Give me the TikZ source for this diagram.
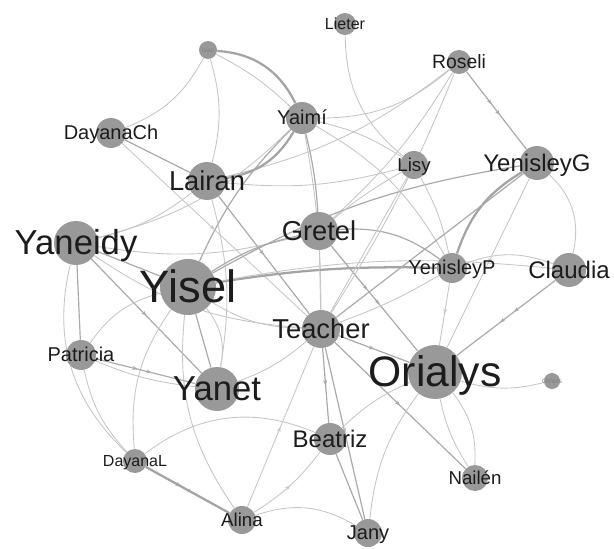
\documentclass[tikz,border=0pt]{standalone}
\usepackage{fontspec}
\setmainfont{Liberation Sans}
\usetikzlibrary{decorations.markings,arrows.meta}
\pgfdeclarelayer{bg}
\pgfsetlayers{bg,main}
\definecolor{nodefill}{HTML}{999999}
\definecolor{eL}{HTML}{C6C6C6}
\definecolor{eM}{HTML}{AAAAAA}
\definecolor{eH}{HTML}{A4A4A4}
\definecolor{txt}{HTML}{1C1C1C}
\tikzset{
  pers/.style={circle, fill=nodefill, draw=none, inner sep=0pt, minimum size={1.5*#1 pt}},
  ln/.style={draw=eL, line width=0.65pt},
  lm/.style={draw=eM, line width=0.9pt},
  lh/.style={draw=eH, line width=1.7pt},
  ar/.style={postaction={decorate}, decoration={markings, mark=at position 0.5 with {\arrow[line width=0.5pt]{Stealth[length=4pt,width=3pt]}}}},
  artwo/.style={postaction={decorate}, decoration={markings, mark=at position 0.42 with {\arrow[line width=0.5pt]{Stealth[length=4pt,width=3pt]}}, mark=at position 0.56 with {\arrow[line width=0.5pt]{Stealth[length=4pt,width=3pt]}}}}
}
\newcommand\pnode[4]{\node[pers=#4] (#1) at (#2,#3) {};}
\newcommand\plab[3]{\node[font=\fontsize{#2}{#2}\selectfont, text=txt, anchor=base, inner sep=0pt, yshift={-0.34*#2pt}] (t#1) at (#1.center) {#3};}
\begin{document}
\begin{tikzpicture}[x=0.75pt,y=-0.75pt]
\path[use as bounding box] (0,0) rectangle (614,549);
% persons
\pnode{ivan}{208}{50}{9}
\pnode{lieter}{345}{24}{11}
\pnode{roseli}{459}{62}{12}
\pnode{dayanach}{111}{133}{15}
\pnode{yaimi}{302}{118}{16}
\pnode{lairan}{207}{181}{19}
\pnode{lisy}{414}{165}{14}
\pnode{yenisleyg}{537}{163}{17}
\pnode{gretel}{319}{231}{19}
\pnode{yaneidy}{76}{243}{22}
\pnode{yisel}{188}{287}{28}
\pnode{yenisleyp}{452}{268}{15}
\pnode{claudia}{569}{270}{17}
\pnode{teacher}{321}{329}{19}
\pnode{patricia}{81}{355}{15}
\pnode{yanet}{217}{389}{22}
\pnode{orialys}{435}{372}{27}
\pnode{others}{552}{381}{8}
\pnode{beatriz}{330}{439}{16}
\pnode{dayanal}{135}{461}{12}
\pnode{nailen}{475}{478}{13}
\pnode{alina}{242}{520}{14}
\pnode{jany}{368}{533}{14}
\begin{pgfonlayer}{bg}
\draw[lh] (ivan) to[bend left=30] (yaimi);
\draw[ln] (ivan) to[bend left=8] (yaimi);
\draw[ln] (ivan) to[bend left=20] (dayanach);
\draw[ln] (ivan) to[bend left=15] (lairan);
\draw[ln] (lieter) to[bend right=25] (lisy);
\draw[lm,artwo] (roseli) -- (yenisleyg);
\draw[ln] (roseli) to[bend left=20] (yaimi);
\draw[ln] (roseli) to[bend left=12] (lairan);
\draw[ln] (roseli) to[bend left=8] (gretel);
\draw[lh] (yaimi) to[bend left=25] (lairan);
\draw[ln] (yaimi) to[bend left=10] (lisy);
\draw[lm] (yaimi) to[bend left=5] (gretel);
\draw[lm] (yaimi) to[bend right=10] (yisel);
\draw[ln] (yaimi) to[bend left=5] (teacher);
\draw[ln] (yaimi) to[bend left=15] (yenisleyp);
\draw[lm] (dayanach) -- (lairan);
\draw[ln,ar] (dayanach) -- (teacher);
\draw[lm,ar] (lairan) -- (teacher);
\draw[ln] (lairan) to[bend left=12] (yanet);
\draw[ln] (lairan) to[bend right=10] (lisy);
\draw[ln] (yaneidy) to[bend right=12] (lairan);
\draw[ln] (yaneidy) to[bend right=15] (yaimi);
\draw[ln] (yaneidy) to[bend right=12] (gretel);
\draw[lm] (yaneidy) -- (yisel);
\draw[lm] (yaneidy) -- (patricia);
\draw[lm,ar] (yaneidy) -- (yanet);
\draw[ln] (yaneidy) to[bend right=15] (teacher);
\draw[ln] (yaneidy) to[bend right=30] (dayanal);
\draw[lm] (yisel) to[bend left=10] (gretel);
\draw[lm] (yisel) to[bend left=10] (yenisleyg);
\draw[lh] (yisel) to[bend left=5] (yenisleyp);
\draw[ln] (yisel) to[bend left=8] (claudia);
\draw[lm] (yisel) -- (yanet);
\draw[ln] (yisel) to[bend left=25] (yanet);
\draw[ln] (yisel) to[bend right=20] (alina);
\draw[ln] (yisel) to[bend right=20] (dayanal);
\draw[ln] (yisel) to[bend right=15] (teacher);
\draw[lm,artwo] (patricia) -- (yanet);
\draw[ln] (patricia) to[bend right=8] (yanet);
\draw[ln] (patricia) to[bend left=20] (yisel);
\draw[ln] (patricia) to[bend right=15] (dayanal);
\draw[lh,artwo] (dayanal) -- (alina);
\draw[ln] (dayanal) to[bend left=30] (beatriz);
\draw[ln] (alina) to[bend left=25] (jany);
\draw[ln,ar] (alina) -- (teacher);
\draw[ln,ar] (alina) to[bend right=10] (beatriz);
\draw[lm,ar] (teacher) -- (beatriz);
\draw[lm,ar] (teacher) -- (jany);
\draw[lm] (beatriz) -- (jany);
\draw[lm,ar] (teacher) -- (orialys);
\draw[lm,ar] (teacher) -- (nailen);
\draw[lm,artwo] (gretel) -- (orialys);
\draw[ln] (gretel) -- (teacher);
\draw[lm] (gretel) to[bend left=20] (yenisleyp);
\draw[lh] (yenisleyp) to[bend left=20] (yenisleyg);
\draw[ln,ar] (yenisleyg) -- (orialys);
\draw[ln,ar] (yenisleyp) -- (orialys);
\draw[lm,artwo] (claudia) -- (orialys);
\draw[ln] (yenisleyg) to[bend left=30] (claudia);
\draw[ln] (yenisleyp) to[bend left=20] (claudia);
\draw[ln] (orialys) to[bend right=10] (nailen);
\draw[ln] (orialys) to[bend left=20] (nailen);
\draw[ln] (orialys) to[bend right=15] (others);
\draw[ln] (beatriz) to[bend left=10] (orialys);
\draw[ln] (jany) to[bend left=15] (orialys);
\draw[ln] (lisy) to[bend left=8] (yenisleyp);
\draw[ln] (lisy) -- (teacher);
\draw[ln] (lisy) to[bend right=5] (gretel);
\draw[lm] (teacher) -- (yenisleyg);
\draw[ln] (teacher) to[bend left=10] (yanet);
\draw[ln] (teacher) to[bend right=5] (roseli);
\draw[ln] (teacher) to[bend right=5] (yenisleyp);
\end{pgfonlayer}
% labels
\plab{ivan}{5}{\textcolor{txt!55}{Ivan}}
\plab{lieter}{12}{Lieter}
\plab{roseli}{14.5}{Roseli}
\plab{dayanach}{15}{DayanaCh}
\plab{yaimi}{15}{Yaimí}
\plab{lairan}{20.5}{Lairan}
\plab{lisy}{14}{Lisy}
\plab{yenisleyg}{18}{YenisleyG}
\plab{gretel}{20.5}{Gretel}
\plab{yaneidy}{26}{Yaneidy}
\plab{yisel}{34}{Yisel}
\plab{yenisleyp}{15}{YenisleyP}
\plab{claudia}{18}{Claudia}
\plab{teacher}{20.5}{Teacher}
\plab{patricia}{15}{Patricia}
\plab{yanet}{26}{Yanet}
\plab{orialys}{32}{Orialys}
\plab{others}{5}{\textcolor{txt!55}{Others}}
\plab{beatriz}{18}{Beatriz}
\plab{dayanal}{12}{DayanaL}
\plab{nailen}{14}{Nailén}
\plab{alina}{14}{Alina}
\plab{jany}{15}{Jany}
\end{tikzpicture}
\end{document}
